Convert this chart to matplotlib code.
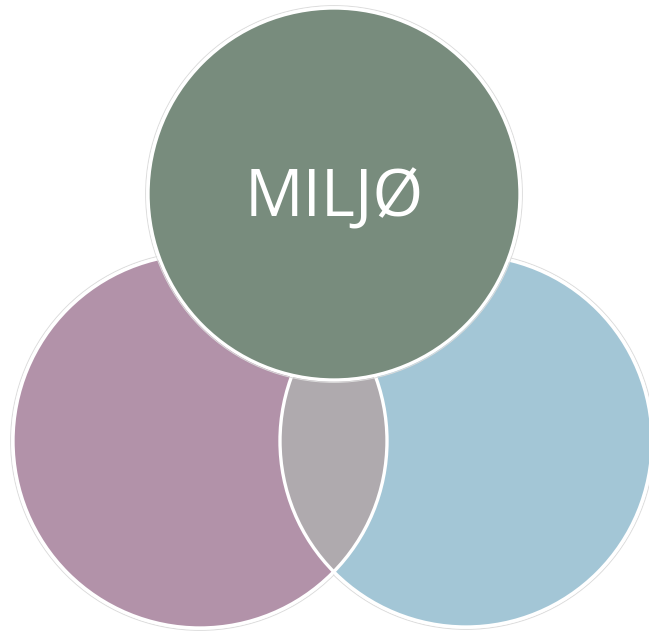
import matplotlib.pyplot as plt
from matplotlib.patches import Circle

# three overlapping circles (pixel coords of the original picture)
labels = ["", "", "MILJØ"]
centers = [(200, 441), (466, 441), (334, 194)]
radii = [187, 186, 186]
colors = ["#B292A9", "#A3C6D6", "#788C7D"]
lens_color = "#AFAAAE"

fig = plt.figure(figsize=(6.49, 6.31), dpi=100)
ax = fig.add_axes([0, 0, 1, 1])
ax.set_xlim(0, 649)
ax.set_ylim(631, 0)
ax.set_aspect("equal")
ax.axis("off")


def ring(c, r, z):
    # faint grey halo just outside the white stroke
    ax.add_patch(Circle(c, r + 2.4, fill=False, edgecolor="#DCDCDC", lw=0.7, zorder=z))


# bottom two circles
for i in range(2):
    ring(centers[i], radii[i], 1)
    ax.add_patch(Circle(centers[i], radii[i], facecolor=colors[i], edgecolor="none", zorder=2))

# overlap of the two bottom circles
clip = Circle(centers[0], radii[0], transform=ax.transData)
lens = Circle(centers[1], radii[1], facecolor=lens_color, edgecolor="none", zorder=3)
ax.add_patch(lens)
lens.set_clip_path(clip)

for i in range(2):
    ax.add_patch(Circle(centers[i], radii[i], fill=False, edgecolor="white", lw=2.4, zorder=4))

# top circle
ring(centers[2], radii[2], 5)
ax.add_patch(Circle(centers[2], radii[2], facecolor=colors[2], edgecolor="white", lw=2.4, zorder=6))

for c, lab in zip(centers, labels):
    if lab:
        ax.text(c[0], c[1] + 6, lab, color="white", fontsize=47, family="Open Sans",
                ha="center", va="center", zorder=7)

fig.savefig("out.png", dpi=100, facecolor="white")
